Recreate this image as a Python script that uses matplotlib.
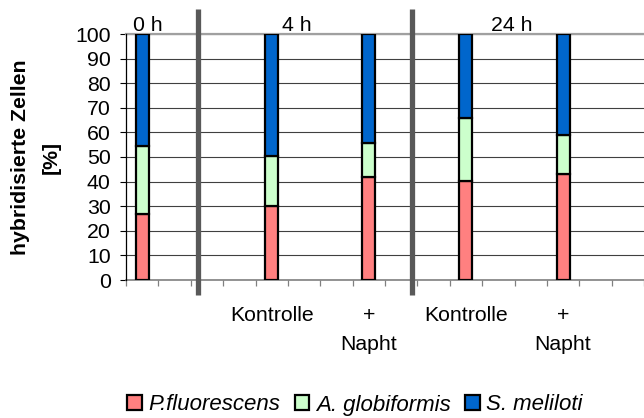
import matplotlib
matplotlib.use("Agg")
import matplotlib.pyplot as plt
from matplotlib.patches import Patch
import numpy as np

plt.rcParams["font.family"] = ["Liberation Sans", "DejaVu Sans"]

# 16 category slots on the x axis, bars sit in a few of them
n_slots = 16
bar_slots = [0, 4, 7, 10, 13]
p_fluor = [27.0, 30.0, 42.0, 40.2, 43.0]
a_glob = [27.6, 20.4, 13.8, 25.5, 15.9]
s_mel = [45.4, 49.6, 44.2, 34.3, 41.1]
species = ["P.fluorescens", "A. globiformis", "S. meliloti"]
colors = ["#FF8080", "#CCFFCC", "#0066CC"]
tick_slots = [4, 7, 10, 13]
tick_labels = ["Kontrolle", "+\nNapht", "Kontrolle", "+\nNapht"]
time_labels = ["0 h", "4 h", "24 h"]
time_pos = [0.17, 4.79, 11.4]
separators = [1.72, 8.32]

FS = 15.3

fig = plt.figure(figsize=(6.44, 4.18), dpi=100)
ax = fig.add_axes([126 / 644, 1 - 280 / 418, 1 - 126 / 644, (280 - 34) / 418])

x = np.array(bar_slots, dtype=float)
bottom = np.zeros(len(x))
for vals, col, lab in zip([p_fluor, a_glob, s_mel], colors, species):
    ax.bar(x, vals, width=0.4, bottom=bottom, color=col, edgecolor="black",
           linewidth=1.6, label=lab, zorder=3)
    bottom += np.array(vals)

ax.set_xlim(-0.5, -0.5 + 518 / 32.87)
ax.set_ylim(0, 100)
ax.set_yticks(np.arange(0, 101, 10))
ax.yaxis.grid(True, color="#404040", linewidth=0.8, zorder=0)
ax.tick_params(axis="y", direction="out", length=4, width=0.8, labelsize=FS, pad=7)

ax.set_xticks(tick_slots)
ax.set_xticklabels(tick_labels, fontsize=FS, linespacing=1.67)
ax.tick_params(axis="x", which="major", length=0, pad=19)
ax.set_xticks(np.arange(-0.5, n_slots, 1.0), minor=True)
ax.tick_params(axis="x", which="minor", direction="out", length=4, width=0.9,
               color="#808080")

ax.spines["right"].set_visible(False)
ax.spines["top"].set_color("#a0a0a0")
ax.spines["top"].set_linewidth(1.6)
ax.spines["bottom"].set_color("#808080")
ax.spines["bottom"].set_linewidth(1.2)
ax.spines["left"].set_color("black")
ax.spines["left"].set_linewidth(0.9)
ax.spines["left"].set_zorder(4)

for t, xp in zip(time_labels, time_pos):
    ax.text(xp, 99.5, t, ha="center", va="bottom", fontsize=FS)

for xs in separators:
    ax.plot([xs, xs], [110.2, -6.1], color="#595959", linewidth=3.8,
            clip_on=False, zorder=5, solid_capstyle="butt")

fig.text(36 / 644, 1 - 157 / 418, "hybridisierte Zellen\n[%]", rotation=90,
         ha="center", va="center", fontsize=FS, fontweight="bold",
         multialignment="center", linespacing=1.8)

handles = [Patch(facecolor=c, edgecolor="black", linewidth=1.6) for c in colors]
fig.legend(handles, species, loc="center", bbox_to_anchor=(355 / 644, 1 - 405 / 418),
           ncol=3, frameon=False, handlelength=0.65, handleheight=0.65,
           handletextpad=0.3, columnspacing=0.65, borderaxespad=0,
           prop={"size": 16, "style": "italic"})

fig.savefig("out.png", dpi=100)
